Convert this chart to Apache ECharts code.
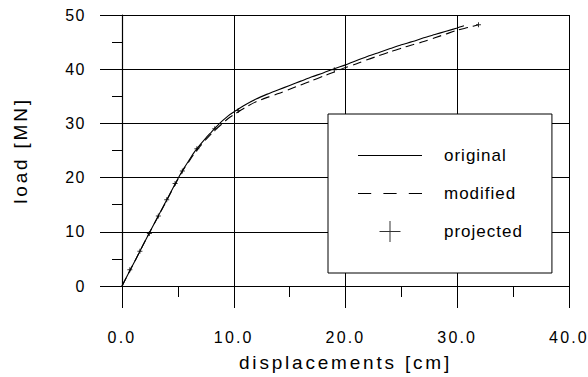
<!DOCTYPE html>
<html><head><meta charset="utf-8">
<script src="https://cdn.jsdelivr.net/npm/echarts@6/dist/echarts.min.js"></script>
<style>html,body{margin:0;padding:0;background:#fff}#c{width:588px;height:377px}</style>
</head><body><div id="c"></div>
<script>
// ---- data ----
const seriesNames = ['original', 'modified', 'projected'];
const xAxisTitle = 'displacements [cm]';
const yAxisTitle = 'load [MN]';
const xRange = [0, 40];
const yRange = [0, 50];
const originalData = [[0,0],[1.25,5],[2.5,10],[3.75,14.9],[5,19.8],[5.5,21.6],[6,23.2],[6.5,24.8],[7,26.1],[7.5,27.3],[8,28.4],[8.5,29.5],[9,30.5],[9.5,31.4],[10,32.1],[11,33.4],[12,34.5],[13,35.4],[14,36.2],[15,37.0],[16,37.8],[17,38.6],[18,39.3],[19,40.1],[20,40.8],[21,41.6],[22,42.4],[23,43.1],[24,43.8],[25,44.5],[26,45.1],[27,45.8],[28,46.4],[29,47.0],[30,47.6],[30.6,48.0]];
const modifiedData = [[0,0],[1.25,5],[2.5,10],[3.75,14.8],[5,19.7],[5.5,21.5],[6,23.0],[6.5,24.5],[7,25.8],[7.5,27.0],[8,28.1],[8.5,29.1],[9,30.0],[9.5,30.9],[10,31.6],[11,32.9],[12,34.0],[13,34.8],[14,35.5],[15,36.3],[16,37.1],[17,37.9],[18,38.7],[19,39.5],[20,40.3],[21,41.0],[22,41.8],[23,42.5],[24,43.2],[25,43.9],[26,44.5],[27,45.1],[28,45.8],[29,46.5],[30,47.2],[31,47.7],[31.9,48.2]];
const projectedData = [[0.7,3.0],[1.6,6.4],[2.45,9.7],[3.25,12.9],[4.0,15.9],[4.75,18.9],[5.4,21.2],[6.7,25.3],[8.3,29.0],[10.4,32.4],[19.0,39.9],[31.9,48.2]];

const FONT = 'Liberation Sans';
const chart = echarts.init(document.getElementById('c'), null, {renderer: 'svg'});
const axisCommon = {
  axisLine: {show: true, onZero: false, lineStyle: {color: '#000', width: 1.2}},
  axisTick: {show: true, inside: false, length: 22, lineStyle: {color: '#000', width: 1}},
  splitLine: {show: true, lineStyle: {color: '#000', width: 1}},
  nameTextStyle: {fontFamily: FONT, fontSize: 19, color: '#000'},
  nameLocation: 'middle'
};
chart.setOption({
  animation: false,
  backgroundColor: '#fff',
  grid: {left: 122, right: 19, top: 15, bottom: 89, containLabel: false},
  xAxis: Object.assign({}, axisCommon, {
    type: 'value', min: xRange[0], max: xRange[1], interval: 10,
    name: xAxisTitle, nameGap: 67,
    minorTick: {show: true, splitNumber: 2, length: 11, lineStyle: {color: '#000', width: 1}},
    axisLabel: {margin: 43, fontFamily: FONT, fontSize: 16, color: '#000', formatter: v => v.toFixed(1)}
  }),
  yAxis: Object.assign({}, axisCommon, {
    type: 'value', min: yRange[0], max: yRange[1], interval: 10,
    name: yAxisTitle, nameGap: 92,
    minorTick: {show: true, splitNumber: 2, length: 10, lineStyle: {color: '#000', width: 1}},
    axisLabel: {margin: 36, fontFamily: FONT, fontSize: 16, color: '#000'}
  }),
  legend: {
    left: 328, top: 114, orient: 'vertical',
    padding: [31, 38, 31, 30],
    itemWidth: 64, itemHeight: 21, itemGap: 17,
    symbolKeepAspect: true,
    borderColor: '#000', borderWidth: 1, backgroundColor: '#fff',
    selectedMode: false,
    textStyle: {fontFamily: FONT, fontSize: 17, lineHeight: 21, color: '#000', padding: [0, 0, 0, 17]},
    data: [
      {name: seriesNames[0], icon: 'path://M0,0H64V1H0Z'},
      {name: seriesNames[1], icon: 'path://M0,0H13V1H0ZM25,0H38V1H25ZM50,0H63V1H50Z'},
      {name: seriesNames[2], icon: 'path://M10,0H11V21H10ZM0,10H21V11H0Z'}
    ]
  },
  series: [
    {name: seriesNames[0], type: 'line', data: originalData, symbol: 'none', color: '#000',
     smooth: 0.25, lineStyle: {color: '#000', width: 1.1}},
    {name: seriesNames[1], type: 'line', data: modifiedData, symbol: 'none', color: '#000',
     smooth: 0.25, lineStyle: {color: '#000', width: 1.1, type: [9, 5]}},
    {name: seriesNames[2], type: 'scatter', data: projectedData, color: '#000',
     symbol: 'path://M2,0H3V5H2ZM0,2H5V3H0Z', symbolSize: 5, symbolKeepAspect: true,
     itemStyle: {color: '#000'}}
  ]
});
function applySpacing() {
  document.querySelectorAll('#c svg text').forEach(t => {
    const s = t.textContent;
    let ls = 0;
    if (/^\d+\.\d$/.test(s)) ls = 2.2;
    else if (/^\d+$/.test(s)) ls = 1.5;
    else if (s === xAxisTitle || s === yAxisTitle) ls = 2.8;
    else if (seriesNames.indexOf(s) >= 0) ls = 1;
    if (ls) t.style.letterSpacing = ls + 'px';
  });
}
applySpacing();
chart.on('finished', applySpacing);
</script>
</body></html>
